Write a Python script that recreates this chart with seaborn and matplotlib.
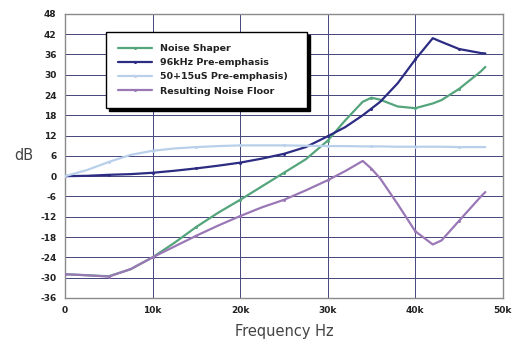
import numpy as np
import pandas as pd
import matplotlib
matplotlib.use("Agg")
import matplotlib.pyplot as plt
import seaborn as sns

# Frequency points (kHz) and response of each curve (dB)
freq_khz = [0, 2.5, 5, 7.5, 10, 12.5, 15, 17.5, 20, 22.5, 25, 27.5, 30,
            32, 34, 35, 36, 38, 40, 42, 43, 45, 47.5, 48]

noise_shaper = [-29, -29.3, -29.6, -27.5, -24, -19.7, -15, -10.8, -7, -3, 1, 5, 10.5,
                16.5, 22, 23.2, 22.6, 20.6, 20.1, 21.5, 22.5, 25.8, 31, 32.3]

preemph_96k = [0, 0.1, 0.4, 0.6, 1.0, 1.6, 2.3, 3.1, 4.0, 5.2, 6.6, 8.6, 11.8,
               14.5, 18, 20, 22, 27.5, 34.5, 40.8, 39.7, 37.6, 36.4, 36.3]

preemph_50_15 = [0, 1.8, 4.2, 6.3, 7.5, 8.2, 8.6, 8.9, 9.1, 9.1, 9.1, 9.0, 8.9,
                 8.9, 8.8, 8.8, 8.8, 8.7, 8.7, 8.7, 8.7, 8.6, 8.6, 8.6]

noise_floor = [-29, -29.3, -29.7, -27.5, -24, -20.8, -17.6, -14.6, -11.8, -9.2, -7, -4.2, -1.2,
               1.5, 4.5, 2.2, -0.7, -8.3, -16.3, -20.2, -19, -13.2, -6, -4.7]

series_names = ["Noise Shaper", "96kHz Pre-emphasis", "50+15uS Pre-emphasis)",
                "Resulting Noise Floor"]
series_values = [noise_shaper, preemph_96k, preemph_50_15, noise_floor]
series_colors = ["#55a57c", "#2b2c82", "#b9d0ea", "#9a78b6"]

y_ticks = [48, 42, 36, 30, 24, 18, 12, 6, 0, -6, -12, -18, -24, -30, -36]
y_tick_labels = ["48", "42", "36", "30", "24", "18", "12", "6", "0",
                 "-6", "-12", "-18", "-24", "-30", "-36"]
x_ticks = [0, 10000, 20000, 30000, 40000, 50000]
x_tick_labels = ["0", "10k", "20k", "30k", "40k", "50k"]

frames = []
for name, vals in zip(series_names, series_values):
    frames.append(pd.DataFrame({"Hz": np.array(freq_khz) * 1000.0,
                                "dB": vals, "series": name}))
df = pd.concat(frames, ignore_index=True)

sns.set_style("white")
fig = plt.figure(figsize=(5.2, 3.46), dpi=100)
ax = fig.add_axes([0.125, 0.139, 0.842, 0.821])

mark_idx = [i for i, f in enumerate(freq_khz) if f % 5 == 0]
palette = dict(zip(series_names, series_colors))
for name in series_names:
    sub = df[df["series"] == name]
    sns.lineplot(data=sub, x="Hz", y="dB", ax=ax, color=palette[name],
                 linewidth=1.6, label=name, marker="o", markersize=2.2,
                 markevery=mark_idx, markeredgewidth=0, zorder=3)

ax.set_xlim(0, 50000)
ax.set_ylim(-36, 48)
ax.set_yticks(y_ticks)
ax.set_yticklabels(y_tick_labels)
ax.set_xticks(x_ticks)
ax.set_xticklabels(x_tick_labels)
ax.tick_params(axis="both", length=0, labelsize=6.5, colors="#222222", pad=6)
for lbl in ax.get_xticklabels() + ax.get_yticklabels():
    lbl.set_fontweight("bold")

ax.grid(True, color="#45457a", linewidth=0.7, zorder=0)
ax.set_axisbelow(True)
for side in ["left", "right", "top", "bottom"]:
    ax.spines[side].set_color("#8a8a8a")
    ax.spines[side].set_linewidth(1.0)

ax.set_xlabel("Frequency Hz", fontsize=10.5, color="#444444", labelpad=6)
ax.set_ylabel("dB", fontsize=10.5, color="#444444", rotation=0, labelpad=12,
              va="center")

leg = ax.legend(loc="upper left", bbox_to_anchor=(0.094, 0.937, 0.459, 0.0),
                mode="expand", frameon=True,
                fancybox=False, shadow={"color": "black", "alpha": 1.0},
                edgecolor="black", fontsize=6.8, handlelength=3.6,
                borderpad=1.3, labelspacing=0.55, handletextpad=0.8,
                borderaxespad=0)
leg.get_frame().set_linewidth(1.0)
for t in leg.get_texts():
    t.set_fontweight("bold")
    t.set_color("#222222")

fig.savefig("out.png", dpi=100, facecolor="white")
